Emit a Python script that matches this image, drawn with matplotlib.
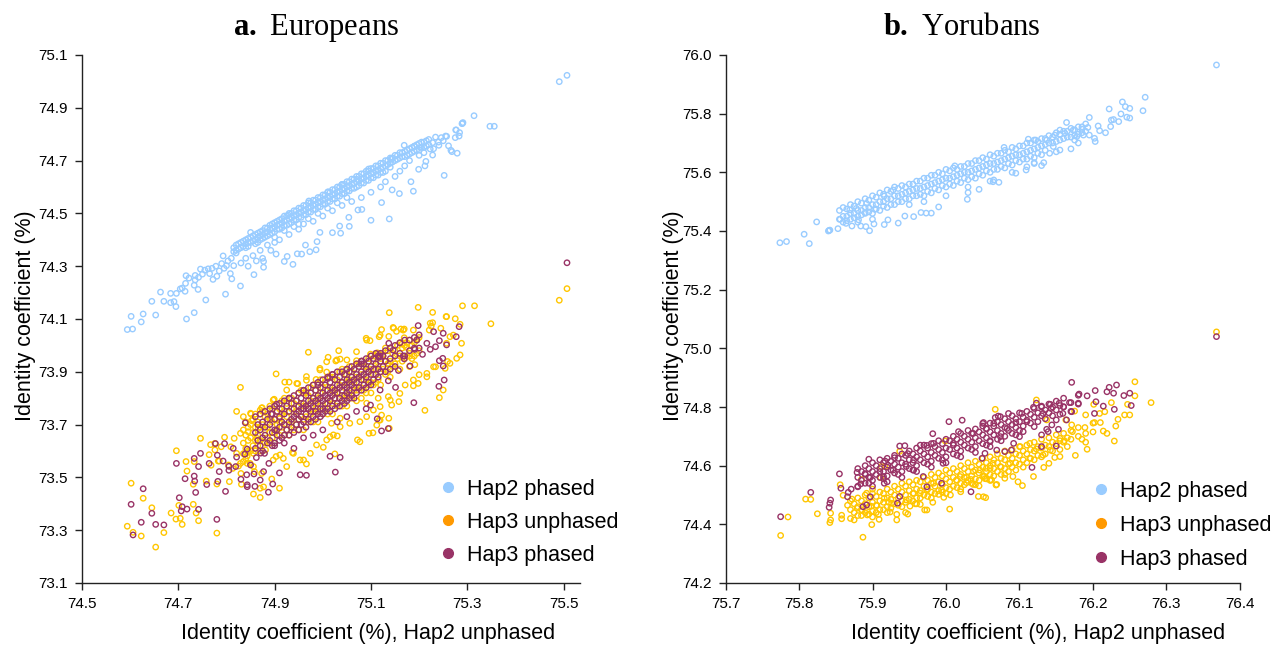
import matplotlib
matplotlib.use("Agg")
import matplotlib.pyplot as plt
from matplotlib.lines import Line2D

# ------------------------------------------------------------------
# Data (identity coefficients, %)
# ------------------------------------------------------------------
series_names = ["Hap2 phased", "Hap3 unphased", "Hap3 phased"]
panel_titles = [r"$\mathbf{a.}$ Europeans", r"$\mathbf{b.}$ Yorubans"]
x_label = "Identity coefficient (%), Hap2 unphased"
y_label = "Identity coefficient (%)"

eur_xticks = [74.5, 74.7, 74.9, 75.1, 75.3, 75.5]
eur_yticks = [73.1, 73.3, 73.5, 73.7, 73.9, 74.1, 74.3, 74.5, 74.7, 74.9, 75.1]
yor_xticks = [75.7, 75.8, 75.9, 76.0, 76.1, 76.2, 76.3, 76.4]
yor_yticks = [74.2, 74.4, 74.6, 74.8, 75.0, 75.2, 75.4, 75.6, 75.8, 76.0]

# ---- Europeans, Hap2 phased: scattered points
eur_h2p_pts = [
    (74.594, 74.060), (74.605, 74.062), (74.623, 74.089), (74.602, 74.110), (74.627, 74.119),
    (74.653, 74.115), (74.645, 74.167), (74.670, 74.167), (74.663, 74.202), (74.684, 74.197),
    (74.684, 74.162), (74.691, 74.166), (74.695, 74.147), (74.696, 74.197), (74.704, 74.214),
    (74.708, 74.217), (74.714, 74.205), (74.717, 74.100), (74.733, 74.124), (74.757, 74.172),
    (74.798, 74.194), (74.829, 74.225), (74.746, 74.289), (74.762, 74.290), (74.716, 74.264),
    (74.735, 74.248), (74.741, 74.212), (74.733, 74.228), (74.793, 74.339), (74.811, 74.252),
    (74.850, 74.428), (74.857, 74.268), (74.877, 74.296), (74.877, 74.318), (74.903, 74.346),
    (74.920, 74.318), (74.926, 74.337), (74.938, 74.307), (74.947, 74.347), (74.956, 74.346),
    (74.964, 74.380), (74.973, 74.355), (74.986, 74.362), (74.988, 74.393), (74.994, 74.428),
    (75.020, 74.427), (75.035, 74.452), (75.037, 74.425), (75.055, 74.451), (75.054, 74.485),
    (75.073, 74.513), (75.314, 74.870), (75.347, 74.830), (75.356, 74.830), (75.289, 74.840),
    (75.291, 74.844), (75.277, 74.816), (75.284, 74.806), (75.275, 74.787), (75.283, 74.793),
    (75.279, 74.728), (75.268, 74.734), (75.257, 74.792), (75.252, 74.644), (75.169, 74.758),
    (75.190, 74.754), (75.188, 74.584), (75.183, 74.620), (75.159, 74.575), (75.144, 74.589),
    (75.122, 74.541), (75.100, 74.474), (75.138, 74.479), (75.081, 74.515), (75.234, 74.789),
    (75.246, 74.787), (75.228, 74.768), (75.241, 74.758), (75.261, 74.756), (75.266, 74.739),
    (75.228, 74.721), (75.212, 74.680), (75.199, 74.667), (75.214, 74.697), (75.202, 74.750),
    (75.223, 74.744), (75.143, 74.705), (75.095, 74.668), (75.071, 74.629), (75.041, 74.610),
    (74.928, 74.494), (74.971, 74.547), (75.011, 74.582), (75.039, 74.608), (75.142, 74.706),
    (75.255, 74.793), (75.276, 74.816), (75.290, 74.841), (75.491, 74.999), (75.507, 75.023),
    (74.715, 74.235), (74.722, 74.255), (74.735, 74.265), (74.742, 74.258), (74.750, 74.270),
    (74.755, 74.285), (74.765, 74.272), (74.770, 74.292), (74.772, 74.250), (74.778, 74.300),
    (74.780, 74.262), (74.785, 74.282), (74.790, 74.310), (74.795, 74.292), (74.800, 74.302),
    (74.803, 74.320), (74.808, 74.272), (74.810, 74.330), (74.815, 74.302), (74.820, 74.350),
    (74.830, 74.312), (74.840, 74.330), (74.845, 74.300), (74.855, 74.340), (74.862, 74.320),
    (74.870, 74.360), (74.875, 74.330), (74.885, 74.380), (74.892, 74.360), (74.900, 74.390),
    (74.910, 74.400), (74.930, 74.420), (74.950, 74.440), (74.960, 74.460), (74.980, 74.470),
    (75.000, 74.490), (75.020, 74.510), (75.040, 74.530), (75.060, 74.545), (75.080, 74.560),
    (75.100, 74.580), (75.120, 74.600), (75.130, 74.620), (75.150, 74.640), (75.160, 74.660),
    (75.170, 74.680), (75.180, 74.700), (75.200, 74.720), (75.210, 74.730), (75.230, 74.745),
    (75.240, 74.770), (75.250, 74.775),
]
# ---- Europeans, Hap2 phased: dense band (x -> y values)
eur_h2p_core = {
    74.815: [74.37, 74.355], 74.82: [74.38, 74.36], 74.825: [74.385, 74.365],
    74.83: [74.39, 74.37], 74.835: [74.395, 74.375], 74.84: [74.40, 74.385, 74.37],
    74.845: [74.405, 74.39, 74.375], 74.85: [74.41, 74.39], 74.855: [74.415, 74.395],
    74.86: [74.42, 74.40, 74.385], 74.865: [74.425, 74.41, 74.39], 74.87: [74.43, 74.415, 74.40],
    74.875: [74.435, 74.42, 74.405], 74.88: [74.445, 74.425, 74.41], 74.885: [74.445, 74.43, 74.415],
    74.89: [74.455, 74.44, 74.42], 74.895: [74.46, 74.445, 74.425], 74.90: [74.465, 74.45, 74.43, 74.41],
    74.905: [74.47, 74.455, 74.44], 74.91: [74.475, 74.46, 74.44], 74.915: [74.48, 74.465, 74.445],
    74.92: [74.49, 74.47, 74.455, 74.435], 74.925: [74.49, 74.475, 74.455], 74.93: [74.50, 74.48, 74.46],
    74.935: [74.50, 74.485, 74.465], 74.94: [74.51, 74.49, 74.475, 74.45], 74.945: [74.51, 74.495, 74.475],
    74.95: [74.52, 74.50, 74.485, 74.46], 74.955: [74.52, 74.505, 74.485], 74.96: [74.53, 74.51, 74.495],
    74.965: [74.53, 74.515, 74.495], 74.97: [74.54, 74.52, 74.505, 74.48], 74.975: [74.54, 74.525, 74.505],
    74.98: [74.55, 74.53, 74.515], 74.985: [74.55, 74.535, 74.515], 74.99: [74.56, 74.54, 74.525, 74.50],
    74.995: [74.56, 74.545, 74.525], 75.00: [74.57, 74.55, 74.535], 75.005: [74.57, 74.555, 74.535],
    75.01: [74.58, 74.56, 74.545, 74.52], 75.015: [74.58, 74.565, 74.545], 75.02: [74.59, 74.57, 74.555],
    75.025: [74.59, 74.575, 74.555], 75.03: [74.60, 74.58, 74.565, 74.54], 75.035: [74.60, 74.585, 74.565],
    75.04: [74.61, 74.59, 74.575], 75.045: [74.61, 74.595, 74.575], 75.05: [74.62, 74.60, 74.585, 74.56],
    75.055: [74.62, 74.605, 74.585], 75.06: [74.63, 74.61, 74.595], 75.065: [74.63, 74.615, 74.595],
    75.07: [74.64, 74.62, 74.60], 75.075: [74.64, 74.625, 74.605], 75.08: [74.65, 74.63, 74.615],
    75.085: [74.65, 74.635, 74.615], 75.09: [74.66, 74.64, 74.625], 75.095: [74.66, 74.645, 74.625],
    75.10: [74.67, 74.65, 74.635], 75.105: [74.67, 74.655, 74.635], 75.11: [74.68, 74.66, 74.645],
    75.115: [74.68, 74.665, 74.645], 75.12: [74.69, 74.67, 74.655], 75.125: [74.69, 74.675, 74.655],
    75.13: [74.70, 74.68, 74.66], 75.135: [74.70, 74.685], 75.14: [74.71, 74.69, 74.675],
    75.145: [74.71, 74.695], 75.15: [74.72, 74.70], 75.155: [74.72, 74.705], 75.16: [74.73, 74.71],
    75.165: [74.73, 74.715], 75.17: [74.735, 74.715], 75.175: [74.74, 74.72], 75.18: [74.745, 74.725],
    75.185: [74.75, 74.73], 75.19: [74.755, 74.735], 75.195: [74.76, 74.74], 75.20: [74.765, 74.74],
    75.205: [74.77, 74.75], 75.21: [74.77, 74.75], 75.215: [74.775, 74.755], 75.22: [74.78, 74.76],
}

# ---- Europeans, Hap3 unphased
eur_h3u_pts = [
    (74.594, 73.315), (74.606, 73.292), (74.623, 73.278), (74.653, 73.236), (74.602, 73.478),
    (74.627, 73.421), (74.645, 73.385), (74.670, 73.291), (74.685, 73.365), (74.695, 73.342),
    (74.704, 73.345), (74.708, 73.322), (74.701, 73.394), (74.731, 73.398), (74.737, 73.365),
    (74.742, 73.336), (74.780, 73.289), (74.696, 73.601), (74.716, 73.560), (74.718, 73.524),
    (74.733, 73.560), (74.731, 73.474), (74.746, 73.648), (74.758, 73.486), (74.764, 73.586),
    (74.767, 73.624), (74.768, 73.546), (74.776, 73.604), (74.780, 73.475), (74.785, 73.562),
    (74.789, 73.616), (74.796, 73.652), (74.806, 73.484), (74.821, 73.750), (74.829, 73.553),
    (74.830, 73.515), (74.831, 73.474), (74.843, 73.553), (74.856, 73.437), (74.858, 73.522),
    (74.870, 73.424), (74.870, 73.459), (74.877, 73.464), (74.894, 73.494), (74.910, 73.459),
    (74.851, 73.740), (74.874, 73.764), (74.866, 73.685), (74.816, 73.648), (74.813, 73.534),
    (75.138, 74.124), (75.198, 74.144), (75.228, 74.125), (75.290, 74.150), (75.315, 74.150),
    (75.349, 74.082), (75.256, 74.109), (75.275, 74.101), (75.285, 74.080), (75.225, 74.073),
    (75.122, 74.060), (75.146, 74.068), (75.162, 74.062), (75.169, 74.062), (75.153, 74.053),
    (75.090, 74.027), (75.098, 74.018), (75.117, 74.033), (75.137, 74.034), (75.169, 74.029),
    (75.196, 74.023), (75.221, 74.058), (75.228, 74.086), (75.245, 74.065), (75.264, 74.033),
    (75.288, 74.008), (75.285, 73.964), (74.970, 73.974), (75.033, 73.980), (75.011, 73.955),
    (75.027, 73.941), (75.036, 73.948), (74.994, 73.913), (74.903, 73.892), (74.921, 73.861),
    (74.930, 73.861), (74.829, 73.841), (74.948, 73.855), (74.966, 73.868), (74.986, 73.871),
    (75.008, 73.899), (75.049, 73.888), (75.062, 73.869), (75.070, 73.942), (75.099, 73.967),
    (75.113, 73.972), (75.124, 73.964), (75.136, 73.932), (75.164, 74.005), (75.173, 73.993),
    (75.180, 73.959), (75.191, 73.927), (75.200, 73.889), (75.188, 73.847), (75.158, 73.787),
    (75.212, 73.754), (75.242, 73.802), (75.250, 73.831), (75.254, 73.913), (75.259, 73.939),
    (75.278, 73.951), (74.899, 73.796), (74.873, 73.763), (74.850, 73.743), (74.835, 73.730),
    (74.852, 73.715), (74.892, 73.720), (74.911, 73.724), (74.829, 73.667), (74.845, 73.673),
    (74.863, 73.648), (74.878, 73.635), (74.856, 73.591), (74.843, 73.581), (74.835, 73.560),
    (74.849, 73.553), (74.903, 73.579), (74.918, 73.572), (74.937, 73.594), (74.960, 73.566),
    (74.966, 73.551), (75.025, 73.589), (74.987, 73.623), (75.001, 73.614), (75.015, 73.654),
    (75.030, 73.657), (75.056, 73.705), (75.072, 73.642), (75.077, 73.635), (75.096, 73.667),
    (75.104, 73.669), (75.112, 73.698), (75.117, 73.717), (75.122, 73.736), (75.137, 73.724),
    (75.105, 73.755), (75.091, 73.781), (75.115, 73.800), (75.136, 73.806), (75.143, 73.774),
    (75.171, 73.850), (75.198, 73.856), (75.216, 73.894), (75.234, 73.919), (75.036, 73.724),
    (75.018, 73.705), (75.138, 73.686), (74.776, 73.629), (74.783, 73.562), (74.809, 73.616),
    (74.821, 73.591), (74.841, 73.591), (74.804, 73.547), (74.825, 73.543), (74.856, 73.541),
    (74.873, 73.515), (74.881, 73.604), (74.897, 73.566), (74.911, 73.585), (74.939, 73.591),
    (74.925, 73.541), (74.953, 73.566), (74.974, 73.591), (75.008, 73.642), (75.022, 73.661),
    (75.036, 73.692), (75.077, 73.711), (75.091, 73.730), (75.119, 73.717), (75.119, 73.768),
    (75.140, 73.793), (75.160, 73.818), (74.870, 73.755), (74.897, 73.793), (74.925, 73.831),
    (74.946, 73.856), (74.966, 73.882), (74.994, 73.907), (75.008, 73.938), (75.029, 73.945),
    (75.050, 73.945), (75.070, 73.976), (75.091, 74.020), (75.119, 74.039), (75.147, 74.065),
    (75.167, 74.058), (75.188, 74.058), (75.223, 74.084), (75.257, 74.109), (75.271, 74.039),
    (75.257, 74.008), (75.264, 73.932), (75.230, 73.919), (75.216, 73.881), (75.188, 73.869),
    (75.491, 74.171), (75.507, 74.215),
]
eur_h3u_core = {
    74.835: [73.68, 73.63, 73.59], 74.84: [73.71, 73.66, 73.61, 73.57], 74.845: [73.69, 73.64, 73.60],
    74.85: [73.70, 73.65, 73.60], 74.855: [73.72, 73.67, 73.62], 74.86: [73.74, 73.69, 73.64, 73.60],
    74.865: [73.71, 73.66, 73.62], 74.87: [73.74, 73.69, 73.64, 73.60], 74.875: [73.75, 73.70, 73.65],
    74.88: [73.73, 73.68, 73.63], 74.885: [73.74, 73.69, 73.65], 74.89: [73.77, 73.72, 73.67, 73.63],
    74.895: [73.76, 73.71, 73.65], 74.90: [73.77, 73.72, 73.67, 73.63], 74.905: [73.75, 73.70, 73.68],
    74.91: [73.76, 73.71, 73.66], 74.915: [73.79, 73.74, 73.69], 74.92: [73.80, 73.75, 73.70, 73.66],
    74.925: [73.78, 73.73, 73.68], 74.93: [73.80, 73.75, 73.70, 73.66], 74.935: [73.80, 73.76, 73.71],
    74.94: [73.78, 73.73, 73.68], 74.945: [73.79, 73.75, 73.70], 74.95: [73.82, 73.77, 73.72, 73.68],
    74.955: [73.83, 73.78, 73.73], 74.96: [73.82, 73.77, 73.72, 73.68], 74.965: [73.82, 73.77, 73.73],
    74.97: [73.81, 73.76, 73.71], 74.975: [73.84, 73.79, 73.74], 74.98: [73.85, 73.80, 73.75, 73.71],
    74.985: [73.83, 73.78, 73.76], 74.99: [73.85, 73.80, 73.75, 73.71], 74.995: [73.87, 73.82, 73.77],
    75.00: [73.84, 73.79, 73.74], 75.005: [73.86, 73.81, 73.76], 75.01: [73.88, 73.83, 73.78, 73.74],
    75.015: [73.88, 73.84, 73.79], 75.02: [73.88, 73.83, 73.78, 73.74], 75.025: [73.87, 73.82, 73.80],
    75.03: [73.87, 73.82, 73.77], 75.035: [73.90, 73.85, 73.80], 75.04: [73.91, 73.86, 73.81, 73.77],
    75.045: [73.89, 73.84, 73.80], 75.05: [73.91, 73.86, 73.81, 73.77], 75.055: [73.92, 73.87, 73.82],
    75.06: [73.90, 73.85, 73.80], 75.065: [73.91, 73.86, 73.83], 75.07: [73.93, 73.88, 73.83, 73.79],
    75.075: [73.93, 73.88, 73.84], 75.08: [73.94, 73.89, 73.84, 73.80], 75.085: [73.92, 73.87, 73.83],
    75.09: [73.92, 73.87, 73.82], 75.095: [73.95, 73.90, 73.85], 75.10: [73.96, 73.91, 73.86, 73.82],
    75.105: [73.94, 73.89, 73.85], 75.11: [73.96, 73.91, 73.86], 75.115: [73.97, 73.92, 73.87],
    75.12: [73.95, 73.90, 73.85], 75.125: [73.96, 73.91], 75.13: [73.99, 73.94, 73.89],
    75.135: [73.98, 73.93, 73.90], 75.14: [73.99, 73.94, 73.88], 75.145: [73.97, 73.92],
    75.15: [73.98, 73.93], 75.155: [74.00, 73.95], 75.16: [74.01, 73.96, 73.91], 75.165: [73.99, 73.94],
    75.17: [74.00, 73.95], 75.175: [74.01, 73.96], 75.18: [74.02, 73.97, 73.92], 75.185: [74.00, 73.95],
    75.19: [74.01, 73.96], 75.195: [74.02, 73.97], 75.20: [74.03, 73.98],
}

# ---- Europeans, Hap3 phased
eur_h3p_pts = [
    (74.606, 73.282), (74.602, 73.398), (74.627, 73.457), (74.623, 73.330), (74.645, 73.364),
    (74.653, 73.322), (74.670, 73.320), (74.702, 73.423), (74.708, 73.389), (74.706, 73.373),
    (74.718, 73.380), (74.742, 73.379), (74.780, 73.341), (74.696, 73.553), (74.714, 73.495),
    (74.733, 73.572), (74.733, 73.505), (74.734, 73.486), (74.736, 73.443), (74.742, 73.541),
    (74.746, 73.591), (74.759, 73.473), (74.764, 73.553), (74.777, 73.628), (74.781, 73.584),
    (74.782, 73.485), (74.785, 73.522), (74.793, 73.562), (74.796, 73.628), (74.798, 73.447),
    (74.805, 73.542), (74.805, 73.527), (74.814, 73.610), (74.819, 73.541), (74.821, 73.577),
    (74.830, 73.493), (74.839, 73.707), (74.843, 73.607), (74.843, 73.465), (74.850, 73.547),
    (74.857, 73.513), (74.862, 73.575), (74.870, 73.490), (74.877, 73.522), (74.879, 73.591),
    (74.888, 73.553), (74.910, 73.517), (74.904, 73.777), (74.893, 73.740),
    (75.198, 74.075), (75.230, 74.052), (75.250, 74.046), (75.283, 74.071), (75.277, 74.033),
    (75.257, 74.002), (75.242, 74.018), (75.234, 73.995), (75.223, 73.985), (75.216, 74.008),
    (75.195, 74.020), (75.191, 73.985), (75.207, 73.966), (75.249, 73.951), (75.242, 73.942),
    (75.250, 73.922), (75.252, 73.869), (75.241, 73.845), (75.189, 73.783), (75.137, 74.008),
    (75.119, 73.960), (75.146, 73.982), (75.167, 73.960), (75.169, 73.949), (75.181, 73.922),
    (75.157, 73.905), (75.151, 73.841), (75.136, 73.866), (75.119, 73.831), (75.099, 73.774),
    (75.113, 73.722), (75.136, 73.685), (75.122, 73.676), (75.026, 73.520), (75.036, 73.576),
    (75.015, 73.580), (74.966, 73.508), (74.953, 73.510), (74.904, 73.678), (74.871, 73.592),
    (74.838, 73.588), (74.842, 73.510), (74.859, 73.466), (74.887, 73.444), (74.896, 73.475),
    (74.843, 73.472), (75.011, 73.875), (75.117, 73.955), (75.081, 73.941), (75.507, 74.313),
    (74.900, 73.620), (74.920, 73.630), (74.940, 73.610), (74.960, 73.650), (74.980, 73.660),
    (75.000, 73.680), (75.030, 73.710), (75.050, 73.730), (75.070, 73.750), (75.090, 73.760),
    (74.930, 73.800), (74.960, 73.830), (74.990, 73.850), (75.020, 73.890), (75.050, 73.910),
    (75.080, 73.930),
]
eur_h3p_core = {
    74.86: [73.73, 73.67, 73.61], 74.865: [73.70, 73.64], 74.87: [73.74, 73.68, 73.62],
    74.875: [73.71, 73.65, 73.60], 74.88: [73.75, 73.69, 73.66], 74.885: [73.72, 73.63],
    74.89: [73.76, 73.70, 73.64], 74.895: [73.74, 73.67, 73.62], 74.90: [73.77, 73.72, 73.68, 73.63],
    74.905: [73.75, 73.66], 74.91: [73.78, 73.73, 73.69, 73.64], 74.915: [73.76, 73.71, 73.65],
    74.92: [73.79, 73.74, 73.70, 73.66], 74.925: [73.77, 73.68], 74.93: [73.80, 73.75, 73.71, 73.66],
    74.935: [73.78, 73.72, 73.69], 74.94: [73.81, 73.76, 73.73, 73.67], 74.945: [73.79, 73.74, 73.70],
    74.95: [73.82, 73.77, 73.75, 73.72, 73.68], 74.955: [73.80, 73.76, 73.73, 73.70],
    74.96: [73.83, 73.78, 73.76, 73.71], 74.965: [73.81, 73.77, 73.74, 73.69],
    74.97: [73.84, 73.79, 73.76, 73.72], 74.975: [73.82, 73.78, 73.75, 73.71],
    74.98: [73.85, 73.80, 73.77, 73.73], 74.985: [73.83, 73.79, 73.75, 73.72],
    74.99: [73.86, 73.81, 73.78, 73.74], 74.995: [73.84, 73.80, 73.76, 73.73],
    75.00: [73.87, 73.82, 73.79, 73.76, 73.74], 75.005: [73.85, 73.81, 73.78, 73.75],
    75.01: [73.88, 73.83, 73.80, 73.76], 75.015: [73.86, 73.82, 73.79, 73.75],
    75.02: [73.89, 73.84, 73.81, 73.77], 75.025: [73.87, 73.83, 73.80, 73.76],
    75.03: [73.90, 73.85, 73.82, 73.78], 75.035: [73.88, 73.84, 73.80, 73.77],
    75.04: [73.90, 73.86, 73.83, 73.79], 75.045: [73.89, 73.85, 73.81, 73.78],
    75.05: [73.91, 73.87, 73.84, 73.82, 73.79], 75.055: [73.90, 73.86, 73.83, 73.80],
    75.06: [73.92, 73.88, 73.85, 73.81], 75.065: [73.91, 73.87, 73.84, 73.80],
    75.07: [73.93, 73.89, 73.86, 73.82], 75.075: [73.92, 73.88, 73.84],
    75.08: [73.94, 73.90, 73.87, 73.83], 75.085: [73.93, 73.89, 73.85],
    75.09: [73.95, 73.91, 73.88, 73.84], 75.095: [73.94, 73.90, 73.86],
    75.10: [73.96, 73.92, 73.89, 73.85], 75.105: [73.95, 73.91, 73.87],
    75.11: [73.97, 73.93, 73.89], 75.115: [73.96, 73.91, 73.88], 75.12: [73.97, 73.94, 73.90],
    75.125: [73.96, 73.92], 75.13: [73.98, 73.94, 73.90], 75.14: [73.99, 73.95, 73.91],
    75.15: [74.00, 73.96, 73.92], 75.16: [74.01, 73.97], 75.17: [74.02, 73.96],
    75.18: [74.02, 73.98], 75.19: [74.03, 73.99], 75.20: [74.04, 73.99],
}

# ---- Yorubans, Hap2 phased
yor_h2p_pts = [
    (75.774, 75.360), (75.783, 75.364), (75.807, 75.389), (75.814, 75.357), (75.824, 75.431),
    (75.841, 75.402), (75.840, 75.400), (75.842, 75.403), (75.853, 75.408), (75.856, 75.440),
    (75.864, 75.426), (75.869, 75.472), (75.872, 75.417), (75.878, 75.477), (75.881, 75.438),
    (75.884, 75.417), (75.890, 75.463), (75.891, 75.415), (75.896, 75.401), (75.892, 75.494),
    (75.902, 75.424), (75.903, 75.474), (75.916, 75.422), (75.916, 75.519), (75.921, 75.438),
    (75.928, 75.540), (75.935, 75.427), (75.944, 75.451), (75.956, 75.449), (75.966, 75.463),
    (75.973, 75.461), (75.980, 75.461), (75.990, 75.482), (76.012, 75.622), (76.029, 75.508),
    (76.030, 75.531), (76.045, 75.542), (76.064, 75.568), (76.072, 75.566), (76.065, 75.574),
    (76.079, 75.685), (76.095, 75.597), (76.109, 75.608), (76.110, 75.619), (76.120, 75.633),
    (76.130, 75.623), (76.133, 75.633), (76.112, 75.713), (76.122, 75.710), (76.141, 75.665),
    (76.155, 75.676), (76.164, 75.770), (76.170, 75.680), (76.175, 75.710), (76.195, 75.787),
    (76.193, 75.753), (76.202, 75.716), (76.203, 75.705), (76.195, 75.727), (76.207, 75.758),
    (76.209, 75.742), (76.222, 75.816), (76.217, 75.735), (76.224, 75.756), (76.225, 75.778),
    (76.235, 75.773), (76.240, 75.840), (76.244, 75.824), (76.250, 75.818), (76.246, 75.788),
    (76.250, 75.785), (76.268, 75.810), (76.271, 75.856), (76.238, 75.799), (76.228, 75.780),
    (76.173, 75.744), (76.185, 75.747), (76.178, 75.722), (76.187, 75.727), (76.155, 75.744),
    (76.162, 75.733), (76.148, 75.727), (76.137, 75.710), (76.146, 75.688), (76.368, 75.966),
    (75.950, 75.490), (75.970, 75.500), (76.000, 75.520), (76.030, 75.550), (76.060, 75.570),
    (76.090, 75.600), (76.120, 75.630), (76.150, 75.670), (76.180, 75.700), (75.900, 75.440),
    (75.880, 75.430),
]
yor_h2p_core = {
    75.855: [75.47, 75.44], 75.86: [75.48, 75.45, 75.43], 75.865: [75.475, 75.45, 75.435],
    75.87: [75.49, 75.46, 75.44], 75.875: [75.485, 75.46, 75.445], 75.88: [75.50, 75.47, 75.45],
    75.885: [75.495, 75.47, 75.455], 75.89: [75.51, 75.48, 75.46], 75.895: [75.505, 75.48, 75.465],
    75.90: [75.52, 75.49, 75.46], 75.905: [75.515, 75.49, 75.475], 75.91: [75.53, 75.50, 75.47],
    75.915: [75.525, 75.50, 75.485], 75.92: [75.54, 75.51, 75.48], 75.925: [75.535, 75.51, 75.49],
    75.93: [75.55, 75.52, 75.49], 75.935: [75.545, 75.52, 75.50], 75.94: [75.555, 75.525, 75.50],
    75.945: [75.55, 75.53, 75.51], 75.95: [75.56, 75.535, 75.51], 75.955: [75.56, 75.54, 75.52],
    75.96: [75.57, 75.545, 75.52], 75.965: [75.57, 75.545, 75.525], 75.97: [75.58, 75.55, 75.52],
    75.975: [75.58, 75.555, 75.535], 75.98: [75.59, 75.56, 75.53], 75.985: [75.59, 75.565, 75.545],
    75.99: [75.60, 75.57, 75.54], 75.995: [75.595, 75.575, 75.555], 76.00: [75.61, 75.58, 75.55],
    76.005: [75.605, 75.58, 75.56], 76.01: [75.615, 75.585, 75.555], 76.015: [75.61, 75.59, 75.57],
    76.02: [75.62, 75.595, 75.565], 76.025: [75.62, 75.60, 75.58], 76.03: [75.63, 75.60, 75.575],
    76.035: [75.63, 75.605, 75.585], 76.04: [75.64, 75.61, 75.58], 76.045: [75.64, 75.615, 75.595],
    76.05: [75.65, 75.62, 75.59], 76.055: [75.645, 75.625, 75.605], 76.06: [75.66, 75.63, 75.60],
    76.065: [75.655, 75.63, 75.61], 76.07: [75.665, 75.635, 75.61], 76.075: [75.665, 75.64, 75.62],
    76.08: [75.675, 75.645, 75.615], 76.085: [75.67, 75.65, 75.63], 76.09: [75.685, 75.655, 75.625],
    76.095: [75.68, 75.66, 75.64], 76.10: [75.69, 75.66, 75.635], 76.105: [75.69, 75.665, 75.645],
    76.11: [75.70, 75.67, 75.645], 76.115: [75.70, 75.675, 75.655], 76.12: [75.71, 75.68, 75.65],
    76.125: [75.705, 75.685, 75.665], 76.13: [75.715, 75.69, 75.66], 76.135: [75.715, 75.695, 75.675],
    76.14: [75.725, 75.70], 76.145: [75.72, 75.70], 76.15: [75.735, 75.705], 76.155: [75.73, 75.71],
    76.16: [75.74, 75.715], 76.165: [75.74, 75.72], 76.17: [75.75, 75.72], 76.175: [75.745, 75.725],
    76.18: [75.755, 75.73], 76.185: [75.755, 75.735], 76.19: [75.765, 75.74],
}

# ---- Yorubans, Hap3 unphased
yor_h3u_pts = [
    (75.775, 74.362), (75.785, 74.425), (75.809, 74.486), (75.816, 74.485), (75.825, 74.436),
    (75.843, 74.415), (75.842, 74.406), (75.843, 74.438), (75.858, 74.431), (75.858, 74.419),
    (75.866, 74.465), (75.860, 74.499), (75.856, 74.535), (75.872, 74.486), (75.879, 74.455),
    (75.887, 74.356), (75.886, 74.447), (75.893, 74.432), (75.899, 74.399), (75.898, 74.462),
    (75.906, 74.464), (75.908, 74.434), (75.909, 74.417), (75.912, 74.597), (75.916, 74.489),
    (75.922, 74.475), (75.924, 74.442), (75.933, 74.434), (75.933, 74.415), (75.937, 74.649),
    (75.945, 74.440), (75.948, 74.435), (75.951, 74.462), (75.958, 74.470), (75.965, 74.468),
    (75.971, 74.449), (75.974, 74.449), (75.982, 74.475), (75.990, 74.502), (75.997, 74.492),
    (76.005, 74.452), (76.006, 74.500), (76.020, 74.511), (76.028, 74.542), (76.034, 74.553),
    (76.044, 74.495), (76.054, 74.491), (76.045, 74.531), (76.053, 74.556), (76.069, 74.536),
    (76.067, 74.792), (75.999, 74.684), (75.917, 74.597), (75.892, 74.506), (75.900, 74.520),
    (75.911, 74.559), (75.885, 74.553), (75.926, 74.472), (75.946, 74.483), (75.965, 74.506),
    (75.956, 74.506), (75.974, 74.517), (75.983, 74.540), (75.994, 74.517), (76.014, 74.551),
    (76.019, 74.563), (76.028, 74.560), (76.037, 74.580), (76.046, 74.585), (76.055, 74.591),
    (76.064, 74.608), (76.037, 74.536), (76.060, 74.551),
    (76.257, 74.886), (76.257, 74.838), (76.279, 74.815), (76.247, 74.809), (76.243, 74.773),
    (76.250, 74.773), (76.234, 74.758), (76.231, 74.735), (76.229, 74.684), (76.219, 74.710),
    (76.214, 74.718), (76.210, 74.747), (76.202, 74.747), (76.209, 74.778), (76.201, 74.809),
    (76.225, 74.815), (76.216, 74.784), (76.190, 74.773), (76.185, 74.690), (76.192, 74.656),
    (76.176, 74.635), (76.189, 74.730), (76.172, 74.716), (76.171, 74.739), (76.161, 74.685),
    (76.155, 74.693), (76.155, 74.631), (76.148, 74.628), (76.140, 74.608), (76.133, 74.594),
    (76.123, 74.657), (76.119, 74.563), (76.104, 74.532), (76.098, 74.545), (76.091, 74.563),
    (76.080, 74.557), (76.068, 74.534), (76.062, 74.551), (76.052, 74.563), (76.051, 74.494),
    (76.175, 74.786), (76.123, 74.824), (76.163, 74.756), (76.137, 74.756), (76.114, 74.676),
    (76.101, 74.665), (76.074, 74.597), (76.060, 74.591), (76.087, 74.608), (76.114, 74.625),
    (76.132, 74.636), (76.142, 74.653), (76.368, 75.056),
]
yor_h3u_core = {
    75.87: [74.48, 74.45, 74.42], 75.875: [74.47, 74.44, 74.415], 75.88: [74.49, 74.46, 74.43],
    75.885: [74.48, 74.45, 74.43], 75.89: [74.50, 74.47, 74.44], 75.895: [74.49, 74.46, 74.435],
    75.90: [74.505, 74.475, 74.445, 74.425], 75.905: [74.495, 74.465, 74.44], 75.91: [74.51, 74.48, 74.45],
    75.915: [74.505, 74.475, 74.45], 75.92: [74.52, 74.49, 74.46, 74.44], 75.925: [74.51, 74.485, 74.455],
    75.93: [74.53, 74.50, 74.47], 75.935: [74.52, 74.49, 74.465], 75.94: [74.54, 74.51, 74.48, 74.46],
    75.945: [74.53, 74.50, 74.475], 75.95: [74.545, 74.515, 74.485], 75.955: [74.535, 74.505, 74.48],
    75.96: [74.55, 74.52, 74.49, 74.47], 75.965: [74.545, 74.515, 74.49], 75.97: [74.56, 74.53, 74.50],
    75.975: [74.55, 74.52, 74.495], 75.98: [74.57, 74.54, 74.51, 74.49], 75.985: [74.56, 74.53, 74.505],
    75.99: [74.575, 74.545, 74.515], 75.995: [74.565, 74.535, 74.51], 76.00: [74.585, 74.555, 74.525, 74.505],
    76.005: [74.575, 74.545, 74.52], 76.01: [74.59, 74.56, 74.53], 76.015: [74.58, 74.55, 74.525],
    76.02: [74.60, 74.57, 74.54, 74.52], 76.025: [74.59, 74.56, 74.535], 76.03: [74.61, 74.58, 74.55],
    76.035: [74.595, 74.565, 74.54], 76.04: [74.615, 74.585, 74.555, 74.535], 76.045: [74.605, 74.575, 74.55],
    76.05: [74.625, 74.595, 74.565], 76.055: [74.61, 74.58, 74.555], 76.06: [74.63, 74.60, 74.57, 74.55],
    76.065: [74.62, 74.59, 74.565], 76.07: [74.64, 74.61, 74.58], 76.075: [74.625, 74.595, 74.57],
    76.08: [74.65, 74.62, 74.59, 74.57], 76.085: [74.635, 74.605, 74.58], 76.09: [74.655, 74.625, 74.595],
    76.095: [74.64, 74.61, 74.585], 76.10: [74.665, 74.635, 74.605], 76.105: [74.65, 74.62, 74.595],
    76.11: [74.67, 74.64, 74.61], 76.115: [74.655, 74.625], 76.12: [74.68, 74.65, 74.62],
    76.125: [74.665, 74.635], 76.13: [74.69, 74.66, 74.63], 76.135: [74.67, 74.64],
    76.14: [74.695, 74.665], 76.145: [74.68, 74.65], 76.15: [74.705, 74.675], 76.155: [74.685, 74.655],
    76.16: [74.71, 74.68], 76.165: [74.695, 74.665], 76.17: [74.72, 74.69], 76.18: [74.73, 74.70],
    76.19: [74.71, 74.68], 76.20: [74.745, 74.715],
}

# ---- Yorubans, Hap3 phased
yor_h3p_pts = [
    (75.775, 74.426), (75.816, 74.509), (75.841, 74.458), (75.843, 74.483), (75.842, 74.472),
    (75.855, 74.572), (75.857, 74.523), (75.866, 74.494), (75.867, 74.509), (75.871, 74.520),
    (75.880, 74.528), (75.879, 74.577), (75.890, 74.573), (75.884, 74.538), (75.887, 74.460),
    (75.892, 74.466), (75.895, 74.622), (75.897, 74.560), (75.897, 74.494), (75.910, 74.580),
    (75.915, 74.563), (75.916, 74.540), (75.917, 74.616), (75.921, 74.602), (75.930, 74.627),
    (75.934, 74.472), (75.937, 74.667), (75.944, 74.668), (75.948, 74.641), (75.937, 74.495),
    (75.956, 74.619), (75.965, 74.670), (75.974, 74.669), (75.982, 74.709), (75.983, 74.676),
    (76.004, 74.750), (76.022, 74.755), (76.017, 74.716), (75.996, 74.608), (76.034, 74.511),
    (76.051, 74.747), (76.067, 74.764), (76.071, 74.769), (76.037, 74.710), (76.010, 74.676),
    (75.994, 74.540), (75.974, 74.528), (75.969, 74.563), (75.956, 74.585), (75.946, 74.597),
    (75.928, 74.585),
    (76.171, 74.884), (76.181, 74.844), (76.192, 74.838), (76.203, 74.856), (76.204, 74.818),
    (76.219, 74.852), (76.222, 74.867), (76.232, 74.875), (76.228, 74.847), (76.242, 74.839),
    (76.250, 74.847), (76.252, 74.805), (76.229, 74.792), (76.214, 74.803), (76.202, 74.778),
    (76.180, 74.813), (76.168, 74.815), (76.160, 74.801), (76.154, 74.813), (76.142, 74.809),
    (76.143, 74.795), (76.132, 74.778), (76.130, 74.803), (76.123, 74.813), (76.119, 74.799),
    (76.171, 74.784), (76.159, 74.778), (76.150, 74.756), (76.164, 74.756), (76.153, 74.724),
    (76.144, 74.739), (76.137, 74.724), (76.139, 74.716), (76.130, 74.705), (76.120, 74.733),
    (76.110, 74.750), (76.103, 74.778), (76.095, 74.747), (76.085, 74.778), (76.074, 74.767),
    (76.065, 74.744), (76.055, 74.727), (76.050, 74.744), (76.105, 74.716), (76.100, 74.699),
    (76.092, 74.676), (76.083, 74.727), (76.074, 74.699), (76.060, 74.682), (76.069, 74.653),
    (76.053, 74.642), (76.049, 74.625), (76.080, 74.648), (76.089, 74.653), (76.117, 74.594),
    (76.150, 74.667), (76.130, 74.665), (76.368, 75.040),
]
yor_h3p_core = {
    75.88: [74.59, 74.56, 74.53], 75.885: [74.58, 74.55], 75.89: [74.60, 74.57, 74.54],
    75.895: [74.59, 74.56, 74.54], 75.90: [74.61, 74.58, 74.55, 74.53], 75.905: [74.60, 74.57],
    75.91: [74.62, 74.59, 74.56], 75.915: [74.61, 74.58, 74.555], 75.92: [74.625, 74.595, 74.565, 74.545],
    75.925: [74.615, 74.585], 75.93: [74.635, 74.605, 74.575], 75.935: [74.625, 74.595, 74.57],
    75.94: [74.64, 74.61, 74.58, 74.56], 75.945: [74.635, 74.605], 75.95: [74.65, 74.62, 74.59],
    75.955: [74.64, 74.61, 74.585], 75.96: [74.66, 74.63, 74.60, 74.58], 75.965: [74.65, 74.62],
    75.97: [74.67, 74.64, 74.61], 75.975: [74.66, 74.63, 74.605], 75.98: [74.675, 74.645, 74.615, 74.595],
    75.985: [74.665, 74.635], 75.99: [74.685, 74.655, 74.625], 75.995: [74.675, 74.645, 74.62],
    76.00: [74.69, 74.66, 74.63, 74.61], 76.005: [74.685, 74.655], 76.01: [74.70, 74.67, 74.64],
    76.015: [74.69, 74.66, 74.635], 76.02: [74.71, 74.68, 74.65, 74.63], 76.025: [74.70, 74.67],
    76.03: [74.72, 74.69, 74.66], 76.035: [74.71, 74.68, 74.655], 76.04: [74.725, 74.695, 74.665, 74.645],
    76.045: [74.715, 74.685], 76.05: [74.735, 74.705, 74.675], 76.055: [74.725, 74.695, 74.67],
    76.06: [74.745, 74.715, 74.685, 74.665], 76.065: [74.735, 74.705], 76.07: [74.75, 74.72, 74.69],
    76.075: [74.74, 74.71, 74.685], 76.08: [74.76, 74.73, 74.70], 76.085: [74.75, 74.72],
    76.09: [74.77, 74.74, 74.71], 76.095: [74.76, 74.73, 74.705], 76.10: [74.78, 74.75, 74.72],
    76.105: [74.765, 74.735], 76.11: [74.785, 74.755], 76.115: [74.775, 74.745], 76.12: [74.795, 74.765],
    76.125: [74.78, 74.75], 76.13: [74.80, 74.77], 76.135: [74.79, 74.76], 76.14: [74.81, 74.78],
    76.145: [74.80, 74.77], 76.15: [74.82, 74.79], 76.155: [74.805, 74.775], 76.16: [74.83, 74.80],
    76.17: [74.815, 74.785], 76.18: [74.84, 74.81],
}

# ------------------------------------------------------------------
point_colors = ["#99CCFF", "#FFC600", "#993366"]
legend_colors = ["#99CCFF", "#FF9900", "#993366"]


def to_xy(points, core):
    xs = [p[0] for p in points]
    ys = [p[1] for p in points]
    for x, ylist in core.items():
        for y in ylist:
            xs.append(x)
            ys.append(y)
    return xs, ys


W, H = 1271, 646
fig = plt.figure(figsize=(W / 100, H / 100), dpi=100)
plt.rcParams["mathtext.fontset"] = "custom"
plt.rcParams["mathtext.rm"] = "Liberation Serif"
plt.rcParams["mathtext.bf"] = "Liberation Serif:bold"

SANS = "Liberation Sans"

ax1 = fig.add_axes([82 / W, (H - 583) / H, (580 - 82) / W, 528 / H])
ax2 = fig.add_axes([725.5 / W, (H - 583) / H, (1240 - 725.5) / W, 528 / H])

panels = [
    (ax1, [(eur_h2p_pts, eur_h2p_core), (eur_h3u_pts, eur_h3u_core), (eur_h3p_pts, eur_h3p_core)],
     (74.5, 75.534), (73.1, 75.1), eur_xticks, eur_yticks),
    (ax2, [(yor_h2p_pts, yor_h2p_core), (yor_h3u_pts, yor_h3u_core), (yor_h3p_pts, yor_h3p_core)],
     (75.7, 76.4), (74.2, 76.0), yor_xticks, yor_yticks),
]

for ax, series, xlim, ylim, xt, yt in panels:
    for (pts, core), col in zip(series, point_colors):
        xs, ys = to_xy(pts, core)
        ax.scatter(xs, ys, s=15, facecolors="none", edgecolors=col, linewidths=1.0, zorder=3)
    ax.set_xlim(*xlim)
    ax.set_ylim(*ylim)
    ax.set_xticks(xt)
    ax.set_yticks(yt)
    ax.set_xticklabels([f"{v:.1f}" for v in xt], fontsize=11, family=SANS)
    ax.set_yticklabels([f"{v:.1f}" for v in yt], fontsize=11, family=SANS)
    for s in ("top", "right"):
        ax.spines[s].set_visible(False)
    for s in ("left", "bottom"):
        ax.spines[s].set_color("#222222")
        ax.spines[s].set_linewidth(1.0)
    ax.tick_params(direction="out", length=5, width=1.0, color="#222222", pad=5)
    ax.set_facecolor("none")

# titles
fig.text(316 / W, 1 - 35 / H, panel_titles[0], ha="center", va="baseline",
         family="Liberation Serif", fontsize=22)
fig.text(962 / W, 1 - 35 / H, panel_titles[1], ha="center", va="baseline",
         family="Liberation Serif", fontsize=22)

# axis labels
for cx in (368, 1038):
    fig.text(cx / W, 1 - 639 / H, x_label, ha="center", va="baseline", family=SANS, fontsize=15.5)
for cx in (26, 674):
    fig.text(cx / W, 1 - 316 / H, y_label, ha="center", va="center", rotation=90,
             family=SANS, fontsize=15.5)

# legends
handles = [Line2D([], [], linestyle="none", marker="o", markersize=7,
                  markerfacecolor=c, markeredgecolor=c) for c in legend_colors]
for ax, (lx, ly), sp in ((ax1, (439.4, 478.5), 0.56), (ax2, (1092.4, 480.5), 0.61)):
    ax.legend(handles, series_names, loc="upper left", bbox_to_anchor=(lx / W, 1 - ly / H),
              bbox_transform=fig.transFigure, frameon=False, borderpad=0, borderaxespad=0,
              handlelength=0.8, handletextpad=0.5, labelspacing=sp,
              prop={"family": SANS, "size": 15.5})

fig.savefig("out.png", dpi=100)
